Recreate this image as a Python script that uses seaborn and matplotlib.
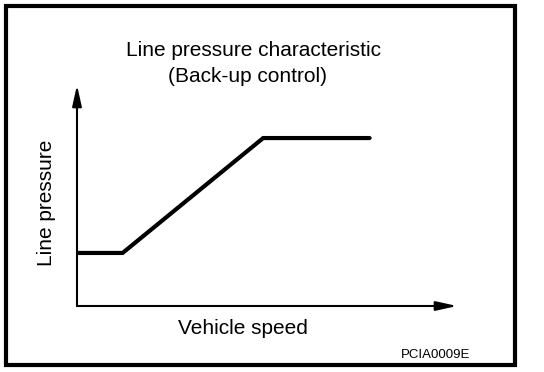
import matplotlib
matplotlib.use("Agg")
import matplotlib.pyplot as plt
from matplotlib.patches import Rectangle
import seaborn as sns

# Datos (unidades relativas, sin escala en el original)
velocidad = [0, 12, 49, 77]
presion = [24, 24, 76, 76]

titulo_1 = "Line pressure characteristic"
titulo_2 = "(Back-up control)"
etiqueta_x = "Vehicle speed"
etiqueta_y = "Line pressure"
codigo = "PCIA0009E"

sns.set_style("white")
plt.rcParams['font.family'] = ['Liberation Sans', 'DejaVu Sans']
plt.rcParams['text.color'] = 'black'

W, H = 544, 372
fig = plt.figure(figsize=(W / 100, H / 100), dpi=100)

def fx(px):
    return px / W

def fy(py):
    return 1 - py / H

# Ejes: origen en (77, 306) px, flechas hasta (457, 306) y (77, 85)
ax = fig.add_axes([fx(77), fy(306), fx(457) - fx(77), fy(85) - fy(306)])
sns.lineplot(x=velocidad, y=presion, color="black", linewidth=3, ax=ax,
             solid_joinstyle="miter")
ax.set_xlim(0, 100)
ax.set_ylim(0, 100)
ax.set_xticks([])
ax.set_yticks([])
for s in ax.spines.values():
    s.set_visible(False)

estilo_flecha = dict(arrowstyle="-|>,head_length=0.9,head_width=0.2", lw=1.5,
                     color="black", mutation_scale=14, shrinkA=0, shrinkB=0)
ax.annotate("", xy=(1, 0), xytext=(0, 0), xycoords="axes fraction",
            arrowprops=estilo_flecha)
ax.annotate("", xy=(0, 1), xytext=(0, 0), xycoords="axes fraction",
            arrowprops=estilo_flecha)

# Textos
fig.text(fx(253), fy(50), titulo_1, ha="center", va="center", fontsize=15)
fig.text(fx(248), fy(76), titulo_2, ha="center", va="center", fontsize=15)
fig.text(fx(243), fy(329), etiqueta_x, ha="center", va="center", fontsize=15)
fig.text(fx(47), fy(203), etiqueta_y, ha="center", va="center", fontsize=15,
         rotation=90)
fig.text(fx(436), fy(355), codigo, ha="center", va="center", fontsize=9.5)

# Marco
fig.add_artist(Rectangle((fx(6), fy(365)), fx(515) - fx(6), fy(6) - fy(365),
                         transform=fig.transFigure, fill=False,
                         edgecolor="black", linewidth=3))

fig.savefig("out.png", dpi=100)
